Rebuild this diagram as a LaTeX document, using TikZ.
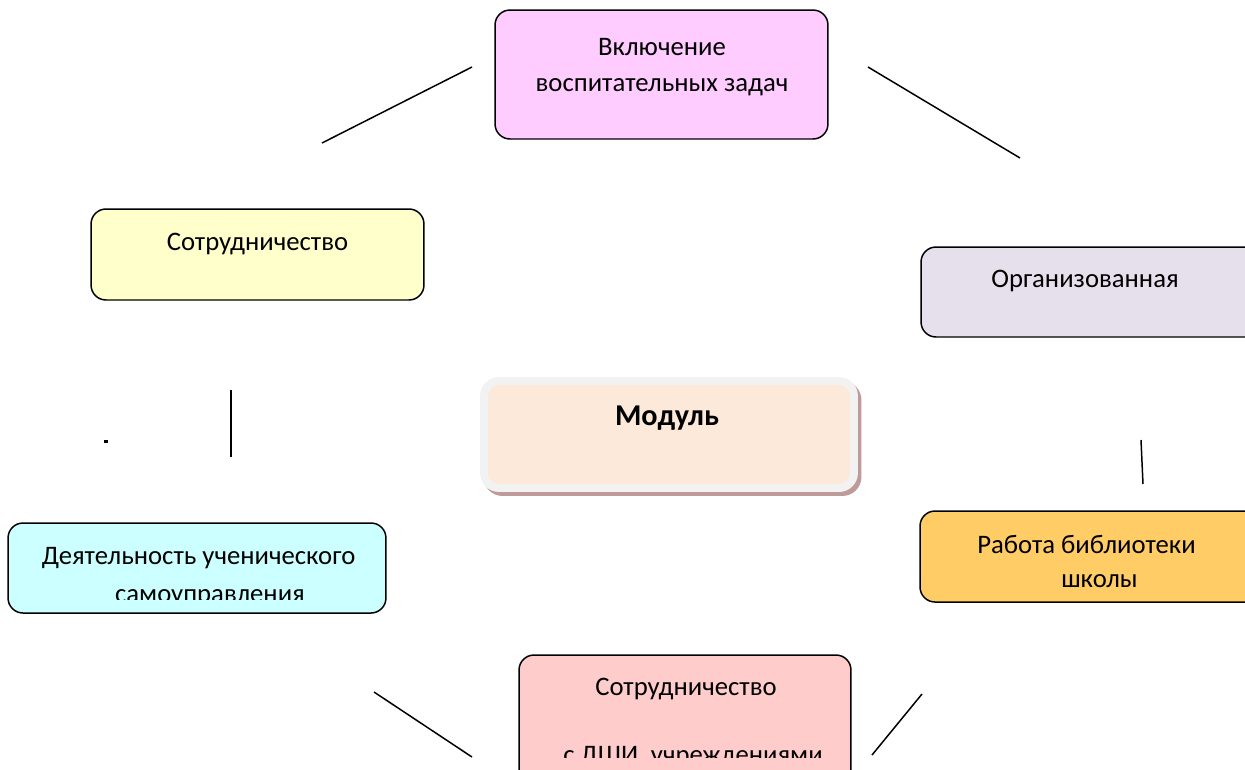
\documentclass[tikz,border=0pt]{standalone}
\usepackage{fontspec}
\setmainfont{Carlito}
\usetikzlibrary{positioning}
\definecolor{vklcol}{HTML}{FFCCFF}
\definecolor{sotrcol}{HTML}{FFFFCC}
\definecolor{orgcol}{HTML}{E5E0EC}
\definecolor{modcol}{HTML}{FCE9DA}
\definecolor{modrim}{HTML}{F2F2F2}
\definecolor{modshade}{HTML}{BF9A9A}
\definecolor{deyatcol}{HTML}{CCFFFF}
\definecolor{bibcol}{HTML}{FFCC66}
\definecolor{dshicol}{HTML}{FFCCCC}
\tikzset{
  modbox/.style={draw=black,line width=0.85pt,rounded corners=0.3cm,inner sep=0pt},
  boxtext/.style={inner sep=0pt,anchor=base,font=\fontsize{15.2}{20}\selectfont},
  link/.style={black,line width=0.85pt}
}

\begin{document}
\begin{tikzpicture}[x=0.02cm,y=-0.02cm]
\useasboundingbox (0,0) rectangle (1245,769);
\clip (0,0) rectangle (1245,769);
  % boxes
  \node (vkl) at (661.5,74.5)[modbox,fill=vklcol,minimum width=6.66cm,minimum height=2.58cm]{};
  \node (sotr) at (257.5,254.5)[modbox,fill=sotrcol,minimum width=6.66cm,minimum height=1.82cm]{};
  \node (org) at (1091,292)[modbox,fill=orgcol,minimum width=6.8cm,minimum height=1.8cm]{};
    \node (deyat) at (197,568)[modbox,fill=deyatcol,minimum width=7.56cm,minimum height=1.8cm]{};
  \node (bib) at (1090,556.5)[modbox,fill=bibcol,minimum width=6.8cm,minimum height=1.82cm]{};
  \node (dshi) at (685,722.5)[modbox,fill=dshicol,minimum width=6.64cm,minimum height=2.7cm]{};
  % center
  \node (modshadow) at (672.5,438.5)[rounded corners=0.3cm,fill=modshade,draw=modshade,line width=4.5pt,minimum width=7.4cm,minimum height=2.14cm,inner sep=0pt]{};
  \node (modul) at (669,434.5)[rounded corners=0.3cm,fill=modcol,draw=modrim,line width=4.5pt,minimum width=7.4cm,minimum height=2.14cm,inner sep=0pt]{};

  % texts
  \node (vkltxt1) at (662,55)[boxtext]{Включение};
  \node (vkltxt2) at (662,91)[boxtext]{воспитательных задач};
  \node (sotrtxt) at (257.5,250)[boxtext]{Сотрудничество};
  \node (orgtxt) at (1085,287)[boxtext]{Организованная};
  \node (modtxt) at (667,425)[boxtext,font=\fontsize{17.2}{20}\selectfont\bfseries]{Модуль};
  \node (deyattxt1) at (198.5,564)[boxtext]{Деятельность ученического};
  \node (bibtxt1) at (1086.5,553)[boxtext]{Работа библиотеки};
  \node (bibtxt2) at (1099.5,587)[boxtext]{школы};
  \node (dshitxt1) at (686,695)[boxtext]{Сотрудничество};
  \begin{scope}
    \clip (0,0) rectangle (1245,599);
    \node (deyattxt2) at (210,602)[boxtext]{самоуправления};
  \end{scope}
  \begin{scope}
    \clip (0,0) rectangle (1245,757);
    \node (dshitxt2) at (693,763)[boxtext]{с ДШИ, учреждениями};
  \end{scope}

  % lines
  \coordinate (la) at (472,67);  \coordinate (lb) at (322,143);
  \coordinate (ra) at (868,67);  \coordinate (rb) at (1020,158);
  \coordinate (va) at (231,390); \coordinate (vb) at (231,457);
  \coordinate (wa) at (1141,440); \coordinate (wb) at (1143,484);
  \coordinate (da) at (374,692); \coordinate (db) at (472,757);
  \coordinate (ea) at (922,694); \coordinate (eb) at (872,755);
  \draw [link] (la) -- (lb);
  \draw [link] (ra) -- (rb);
  \draw [link] (va) -- (vb);
  \draw [link] (wa) -- (wb);
  \draw [link] (da) -- (db);
  \draw [link] (ea) -- (eb);
  \fill (104,440) rectangle (108,442.5);
\end{tikzpicture}
\end{document}
